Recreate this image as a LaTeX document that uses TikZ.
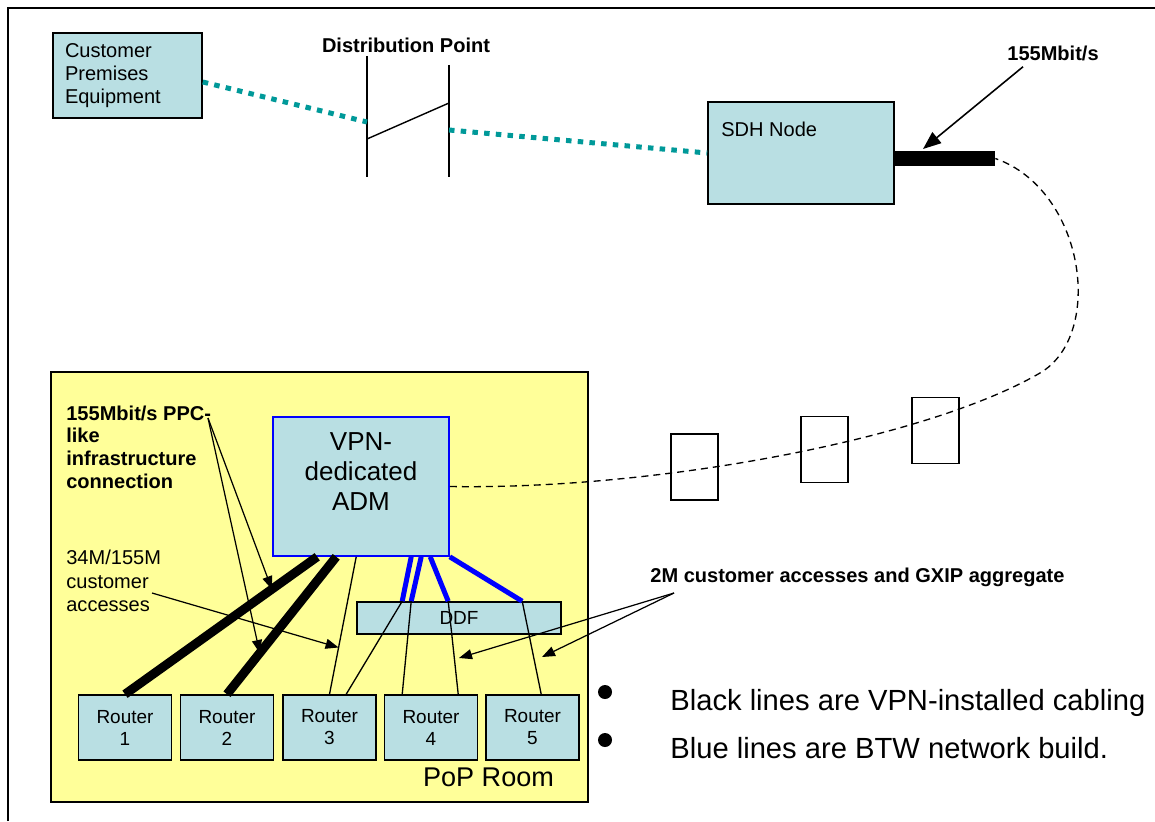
\documentclass[tikz,border=0pt]{standalone}
\usepackage{fontspec}
\setmainfont{Liberation Sans}
\usetikzlibrary{arrows.meta,calc}

\definecolor{boxblue}{RGB}{185,223,227}
\definecolor{popyellow}{RGB}{255,255,153}
\definecolor{feedteal}{RGB}{0,153,153}
\definecolor{btwblue}{RGB}{0,0,255}

% one pixel of the sketch
\newcommand{\pxu}{0.02cm}
\newcommand{\txtfont}{\fontsize{11.4}{13.1}\selectfont}
\newcommand{\admfont}{\fontsize{14.8}{17.1}\selectfont}
\newcommand{\rtfont}{\fontsize{10.8}{12.5}\selectfont}
\newcommand{\popfont}{\fontsize{15.4}{17.5}\selectfont}
\newcommand{\keyfont}{\fontsize{16.6}{18.5}\selectfont}

\tikzset{
    box/.style={draw, fill=boxblue, line width=0.9pt, inner sep=0pt},
    router/.style={box, minimum width=93*\pxu, minimum height=65*\pxu, align=center, font=\rtfont},
    post/.style={draw, line width=0.8pt, minimum width=47*\pxu, minimum height=66*\pxu},
    feed/.style={feedteal, line width=0.1cm, dash pattern=on 0.11cm off 0.125cm},
    cable/.style={line width=0.75pt, dash pattern=on 0.14cm off 0.1cm},
    dpline/.style={line width=0.8pt},
    vpnline/.style={line width=0.18cm},
    btwline/.style={btwblue, line width=0.1cm},
    patch/.style={line width=0.75pt},
    pointer/.style={line width=0.7pt, -{Triangle[length=0.26cm,width=0.2cm]}},
    bigpointer/.style={line width=0.9pt, -{Triangle[length=0.36cm,width=0.28cm]}},
    bold/.style={font=\txtfont\bfseries}
}

\begin{document}
\begin{tikzpicture}[x=0.02cm, y=-0.02cm, font=\txtfont, every node/.style={inner sep=0pt}]
    \useasboundingbox (0,0) rectangle (1155,821);
    % Frame
    \draw[line width=1.1pt] (8,821) -- (8,8) -- (1155,8);

    % Customer side
    \node[box, minimum width=149*\pxu, minimum height=85*\pxu, text width=125*\pxu,
          inner xsep=12*\pxu, align=left] (cpe) at (127.5,75.5) {Customer\\Premises\\Equipment};

    % Distribution point
    \node[bold, anchor=base] (dplbl) at (406,53) {Distribution Point};
    \draw[dpline] (367,56) -- (367,177);
    \draw[dpline] (449,65) -- (449,177);
    \draw[dpline] (367,139) -- (449,103);
    \coordinate (dpin) at (367,122);
    \coordinate (dpout) at (449,130);

    % SDH node and 155M port
    \node[box, minimum width=186*\pxu, minimum height=102*\pxu] (sdh) at (801,153) {};
    \node[anchor=base west] (sdhlbl) at (721,136) {SDH Node};
    \node[fill=black, minimum width=101*\pxu, minimum height=15*\pxu] (bar) at (944.5,158.5) {};
    \node[bold, anchor=base] (ratelbl) at (1053,61) {155Mbit/s};
    \coordinate (ratetip) at (923,149);

    \draw[feed] ([yshift=-0.13cm]cpe.east) -- (dpin);
    \draw[feed] (dpout) -- (sdh.west);
    \draw[bigpointer] ([shift={(16,5)}]ratelbl.south west) -- (ratetip);

    % PoP room
    \node[draw, fill=popyellow, line width=0.9pt, minimum width=537*\pxu, minimum height=430*\pxu] (pop) at (319.5,587) {};
    \node[font=\popfont, anchor=base] (poplbl) at (488.5,786) {PoP Room};

    \node[box, draw=btwblue, minimum width=176*\pxu, minimum height=139*\pxu] (adm) at (361,486.5) {};
    \node[font=\admfont, align=center] (admlbl) at (361,471.5) {VPN-\\dedicated\\ADM};
    \node[box, minimum width=204*\pxu, minimum height=32*\pxu, font=\rtfont] (ddf) at (459,618) {DDF};

    \foreach \i/\x in {1/125,2/227,3/329.5,4/431,5/532.5}
        \node[router] (r\i) at (\x,727.5) {Router\\\i};

    % Posts along the 155M route
    \node[post] (p1) at (694.5,467) {};
    \node[post] (p2) at (824.5,449.5) {};
    \node[post] (p3) at (935.5,430.5) {};
    \draw[cable] (adm.east) .. controls (650,490) and (923,441) .. (1040,373)
        .. controls (1105,335) and (1085,190) .. (bar.east);

    % VPN-installed cabling
    \draw[vpnline] ($(adm.south west)+(45,0)$) -- (r1.north) coordinate[pos=0.236] (hitA);
    \draw[vpnline] ($(adm.south west)+(64,0)$) -- (r2.north) coordinate[pos=0.70] (hitB);
    \draw[patch] ($(adm.south west)+(84,0)$) -- (r3.north) coordinate[pos=0.66] (hitC);

    % BTW network build
    \draw[btwline] ($(adm.south west)+(139,0)$) -- ($(ddf.north west)+(46,0)$);
    \draw[btwline] ($(adm.south west)+(149,0)$) -- ($(ddf.north west)+(55,0)$);
    \draw[btwline] ($(adm.south west)+(158,0)$) -- ($(ddf.north west)+(92,0)$);
    \draw[btwline] (adm.south east) -- ($(ddf.north west)+(166,0)$);

    % DDF to routers
    \draw[patch] ($(ddf.north west)+(46,0)$) -- ($(r3.north west)+(64,0)$);
    \draw[patch] ($(ddf.north west)+(55,0)$) -- ($(r4.north west)+(18.5,0)$);
    \draw[patch] ($(ddf.north west)+(92,0)$) -- ($(r4.north west)+(74.5,0)$);
    \draw[patch] ($(ddf.north west)+(166,0)$) -- ($(r5.north west)+(56,0)$);

    % Annotations
    \node[font=\fontsize{11.4}{12.9}\selectfont\bfseries, align=left, anchor=west] (ppclbl) at (66,447)
        {155Mbit/s PPC-\\like\\infrastructure\\connection};
    \coordinate (ppcfrom) at (208,418);
    \draw[pointer] (ppcfrom) -- (hitA);
    \draw[pointer] (ppcfrom) -- (hitB);

    \node[font=\fontsize{11.4}{13.4}\selectfont, align=left, anchor=west] (acclbl) at (66,581)
        {34M/155M\\customer\\accesses};
    \coordinate (accfrom) at (152,593);
    \draw[pointer] (accfrom) -- (hitC);

    \node[bold, anchor=base] (aggrlbl) at (857.5,582) {2M customer accesses and GXIP aggregate};
    \coordinate (aggrfrom) at (674,593);
    \coordinate (aggrto1) at (459,658);
    \coordinate (aggrto2) at (542,657);
    \draw[pointer] (aggrfrom) -- (aggrto1);
    \draw[pointer] (aggrfrom) -- (aggrto2);

    % Key
    \fill (605,692) circle (0.14cm);
    \fill (605,740) circle (0.14cm);
    \node[font=\keyfont, anchor=base west] (key1) at (670,710) {Black lines are VPN-installed cabling};
    \node[font=\keyfont, anchor=base west] (key2) at (670,758) {Blue lines are BTW network build.};
\end{tikzpicture}
\end{document}
